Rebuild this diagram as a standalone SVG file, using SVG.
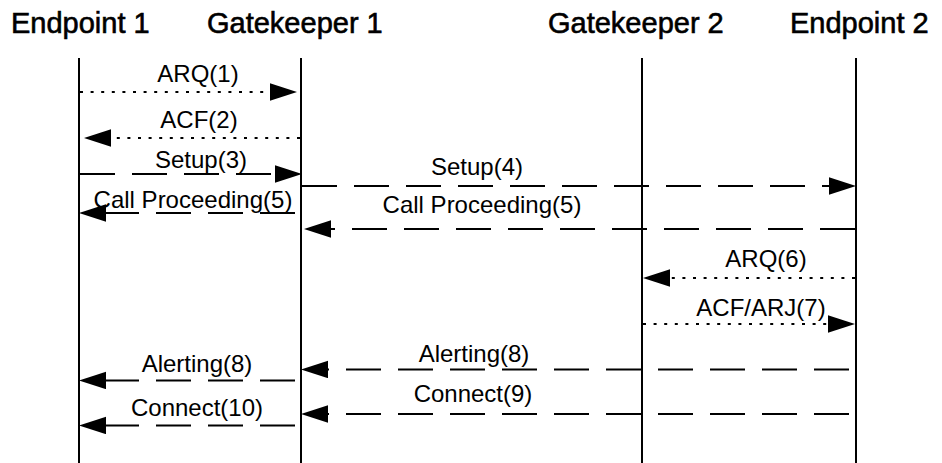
<svg xmlns="http://www.w3.org/2000/svg" width="942" height="463" viewBox="0 0 942 463">
  <style>
    .hdr { font-family: "Liberation Sans", Arial, sans-serif; font-size: 29px; fill: #000; stroke: #000; stroke-width: 0.6px; }
    .lbl { font-family: "Liberation Sans", Arial, sans-serif; font-size: 24px; fill: #000; text-anchor: middle; }
    .life { stroke: #000; stroke-width: 2; fill: none; }
    .msg { stroke: #000; stroke-width: 2; fill: none; marker-end: url(#arrow); }
    .dash { stroke-dasharray: 35 17; }
    .dot { stroke-dasharray: 3 7.6; }
  </style>
  <defs>
    <marker id="arrow" markerUnits="userSpaceOnUse" markerWidth="28" markerHeight="18" refX="0" refY="8.7" orient="auto" viewBox="0 0 28 18">
      <path d="M0,0 L27,8.7 L0,17.4 z" fill="#000"/>
    </marker>
  </defs>
  <rect width="942" height="463" fill="#fff"/>

  <g id="endpoint1">
    <text class="hdr" x="11" y="33">Endpoint 1</text>
    <line class="life" x1="79" y1="58" x2="79" y2="463"/>
  </g>
  <g id="gatekeeper1">
    <text class="hdr" x="207" y="33">Gatekeeper 1</text>
    <line class="life" x1="301" y1="58" x2="301" y2="463"/>
  </g>
  <g id="gatekeeper2">
    <text class="hdr" x="548" y="33">Gatekeeper 2</text>
    <line class="life" x1="642" y1="58" x2="642" y2="463"/>
  </g>
  <g id="endpoint2">
    <text class="hdr" x="790" y="33">Endpoint 2</text>
    <line class="life" x1="856" y1="58" x2="856" y2="463"/>
  </g>

  <g id="connectors">
    <path class="msg dot" d="M80,92 H270"/>
    <path class="msg dot" d="M300,138 H111"/>
    <path class="msg dash" d="M80,174 H275"/>
    <path class="msg dash" d="M302,186 H829"/>
    <path class="msg dash" style="stroke-dashoffset:47" d="M300,213 H106"/>
    <path class="msg dash" d="M855,229 H331"/>
    <path class="msg dot" d="M855,278 H670"/>
    <path class="msg dot" d="M643,324 H828"/>
    <path class="msg dash" style="stroke-dashoffset:46" d="M855,369.5 H328"/>
    <path class="msg dash" style="stroke-dashoffset:47" d="M300,380.5 H106"/>
    <path class="msg dash" style="stroke-dashoffset:46" d="M855,414 H328"/>
    <path class="msg dash" style="stroke-dashoffset:47" d="M300,425.5 H106"/>

    <text class="lbl" x="198" y="82">ARQ(1)</text>
    <text class="lbl" x="199" y="128">ACF(2)</text>
    <text class="lbl" x="201" y="168">Setup(3)</text>
    <text class="lbl" x="477" y="175">Setup(4)</text>
    <text class="lbl" x="193" y="208">Call Proceeding(5)</text>
    <text class="lbl" x="482" y="213">Call Proceeding(5)</text>
    <text class="lbl" x="766" y="267">ARQ(6)</text>
    <text class="lbl" x="761" y="316">ACF/ARJ(7)</text>
    <text class="lbl" x="474" y="362">Alerting(8)</text>
    <text class="lbl" x="197" y="372">Alerting(8)</text>
    <text class="lbl" x="473" y="402">Connect(9)</text>
    <text class="lbl" x="197" y="416">Connect(10)</text>
  </g>
</svg>
